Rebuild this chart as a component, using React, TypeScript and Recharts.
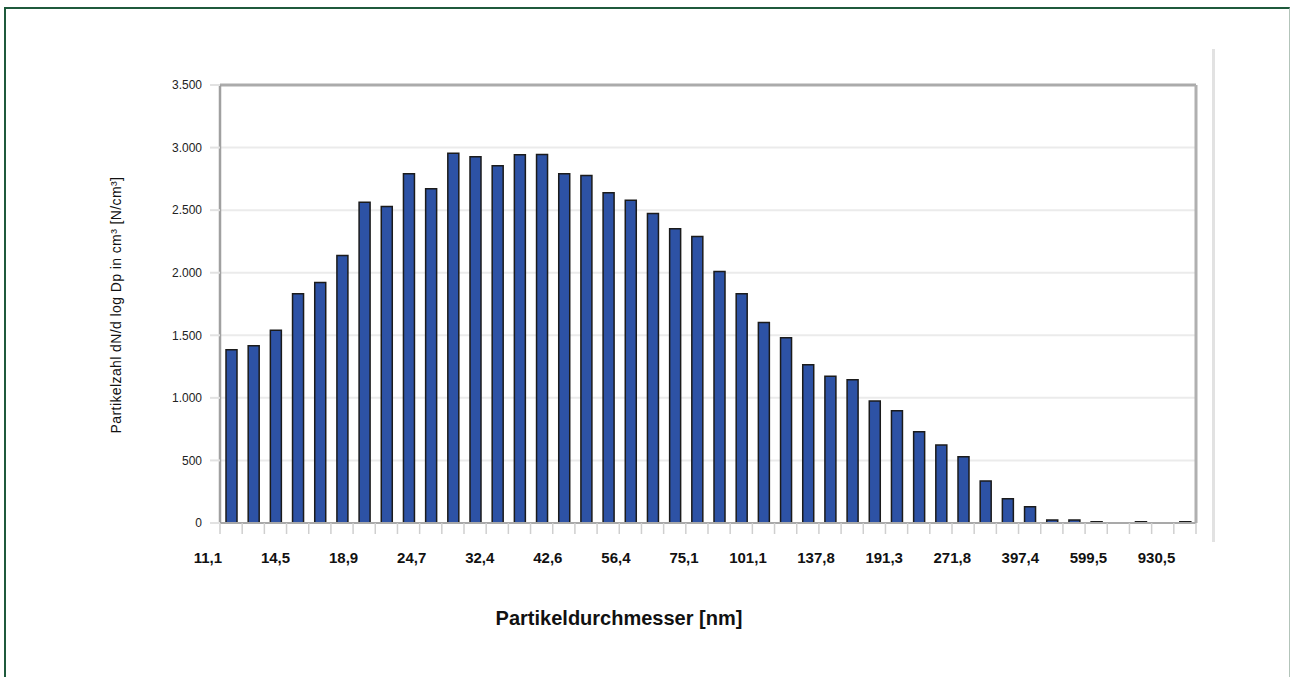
import React from 'react';
import { BarChart, Bar, XAxis, YAxis, CartesianGrid, ReferenceLine } from 'recharts';

// Partikelgrößenverteilung, 44 Größenklassen
const values = [
  1385, 1416, 1541, 1831, 1922, 2138, 2564, 2529, 2790, 2670, 2955,
  2926, 2854, 2942, 2945, 2790, 2777, 2638, 2580, 2474, 2351, 2290,
  2010, 1832, 1603, 1480, 1264, 1172, 1145, 974, 897, 730, 623,
  530, 336, 194, 130, 24, 24, 10, 0, 10, 0, 10,
];

// labels sit on every third class boundary
const xLabels = [
  '11,1', '14,5', '18,9', '24,7', '32,4', '42,6', '56,4', '75,1',
  '101,1', '137,8', '191,3', '271,8', '397,4', '599,5', '930,5',
];
const labelBoundaries = [0, 3, 6, 9, 12, 15, 18, 21, 24, 27, 30, 33, 36, 39, 42];

const yTicks = [0, 500, 1000, 1500, 2000, 2500, 3000, 3500];

const data = values.map((v, i) => ({ pos: i + 0.5, value: v }));
const boundaryTicks = values.map((_, i) => i).concat(values.length);

const deNum = (v: number) => String(v).replace(/\B(?=(\d{3})+(?!\d))/g, '.');

const font = '"Liberation Sans", Arial, Helvetica, sans-serif';

export default function App() {
  return (
    <div style={{ position: 'absolute', left: 0, top: 0, width: 1290, height: 677, background: '#fff', overflow: 'hidden', fontFamily: font }}>
      {/* outer frame */}
      <div style={{
        position: 'absolute', left: 4, top: 7, width: 1283, height: 700,
        borderLeft: '2px solid #1f5a3c', borderTop: '2px solid #1f5a3c', borderRight: '1px solid #b3c4ba',
      }} />
      {/* light separator right of the plot */}
      <div style={{ position: 'absolute', left: 1212, top: 49, width: 3, height: 493, background: '#e2e2e2' }} />

      <div style={{ position: 'absolute', left: 0, top: 0 }}>
        <BarChart width={1290} height={677} data={data} margin={{ top: 85, right: 94, left: 100, bottom: 102 }}>
          <CartesianGrid vertical={false} stroke="#ebebeb" strokeWidth={2} />
          <XAxis
            type="number"
            dataKey="pos"
            domain={[0, 44]}
            ticks={boundaryTicks}
            interval={0}
            height={12}
            tickSize={11}
            tickFormatter={() => ''}
            tickLine={{ stroke: '#cfcfcf', strokeWidth: 1.5 }}
            axisLine={{ stroke: '#a9a9a9', strokeWidth: 2 }}
          />
          <XAxis
            xAxisId="lbl"
            type="number"
            domain={[0, 44]}
            ticks={labelBoundaries}
            interval={0}
            height={40}
            tickSize={0}
            tickMargin={17}
            tickLine={false}
            axisLine={false}
            tickFormatter={(v: number) => xLabels[labelBoundaries.indexOf(v)]}
            tick={{ fill: '#111', fontSize: 15, fontWeight: 'bold', textAnchor: 'end', dx: 2 }}
          />
          <YAxis
            domain={[0, 3500]}
            ticks={yTicks}
            interval={0}
            width={120}
            tickSize={10}
            tickMargin={8}
            tickFormatter={deNum}
            tick={{ fill: '#222', fontSize: 12 }}
            tickLine={{ stroke: '#e2e2e2', strokeWidth: 2 }}
            axisLine={{ stroke: '#a0a0a0', strokeWidth: 2.5 }}
          />
          <ReferenceLine y={3500} stroke="#ababab" strokeWidth={3} />
          <ReferenceLine x={44} stroke="#b0b0b0" strokeWidth={3} />
          <Bar
            dataKey="value"
            barSize={11}
            fill="#2d52a5"
            stroke="#1b1b1b"
            strokeWidth={1.5}
            isAnimationActive={false}
          />
        </BarChart>
      </div>

      {/* axis titles */}
      <div style={{
        position: 'absolute', left: 116, top: 305, transform: 'translate(-50%, -50%) rotate(-90deg)',
        whiteSpace: 'nowrap', fontSize: 14, letterSpacing: 0.4, color: '#111',
      }}>
        Partikelzahl dN/d log Dp in cm³ [N/cm³]
      </div>
      <div style={{
        position: 'absolute', left: 619, top: 618, transform: 'translate(-50%, -50%)',
        whiteSpace: 'nowrap', fontSize: 20, fontWeight: 'bold', color: '#111',
      }}>
        Partikeldurchmesser [nm]
      </div>
    </div>
  );
}
